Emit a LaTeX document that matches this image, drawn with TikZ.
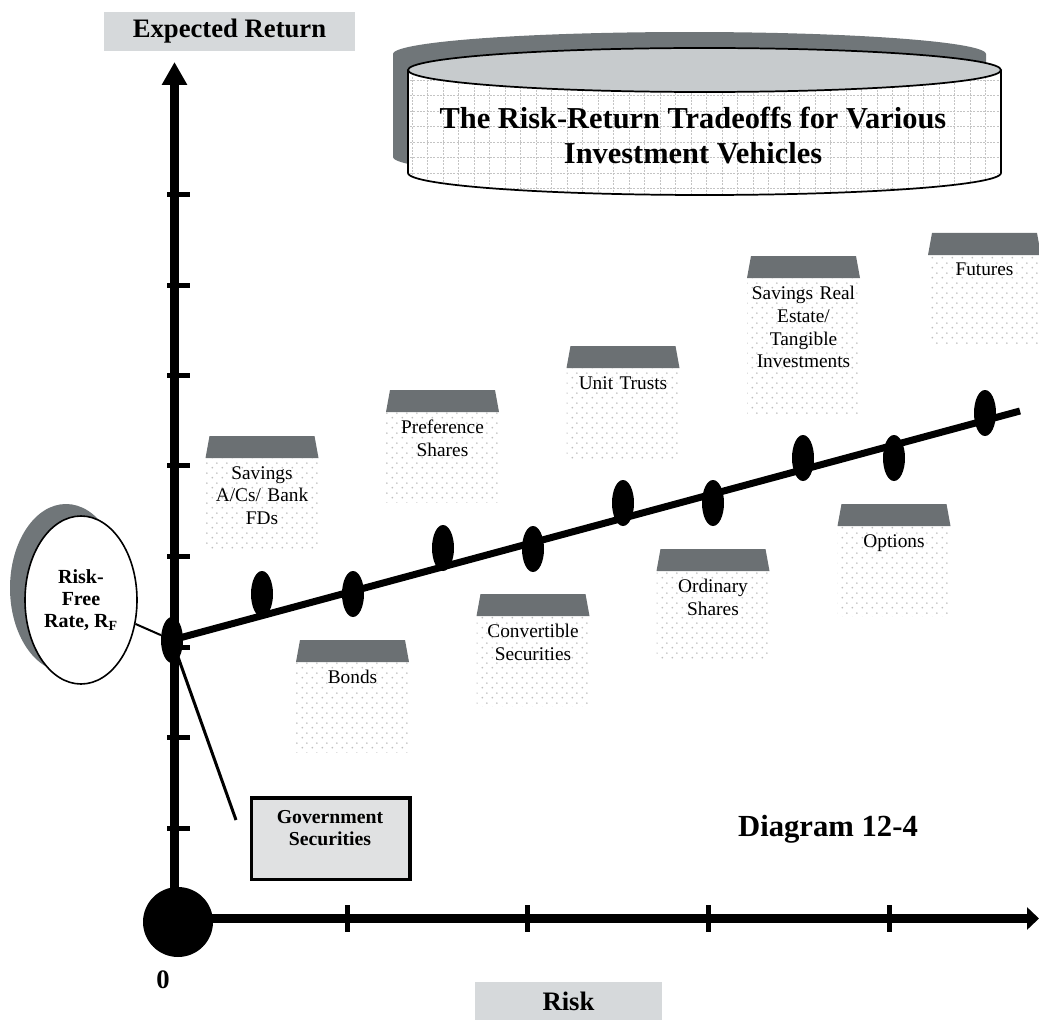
\documentclass[tikz,border=0pt]{standalone}
\usepackage{fontspec}
\setmainfont{Liberation Serif}
\usetikzlibrary{shapes.geometric,arrows.meta,patterns.meta}

\definecolor{roofgray}{RGB}{107,112,115}
\definecolor{shadowgray}{RGB}{112,118,121}
\definecolor{lidgray}{RGB}{199,203,205}
\definecolor{marble}{RGB}{214,217,219}
\definecolor{marblelight}{RGB}{224,225,226}
\definecolor{dotgray}{RGB}{190,190,190}
\definecolor{gridgray}{RGB}{196,196,196}

% light stippled fill for the vehicle cards
\tikzdeclarepattern{
  name=softdots,
  bounding box={(0pt,0pt) and (7.5pt,7.5pt)},
  tile size={(7.5pt,7.5pt)},
  code={
    \pgfpathcircle{\pgfpoint{1.875pt}{1.875pt}}{0.8pt}
    \pgfpathcircle{\pgfpoint{5.625pt}{5.625pt}}{0.8pt}
    \pgfusepath{fill}
  }
}

\pgfdeclarelayer{under}
\pgfsetlayers{under,main}

\tikzset{
  roof/.style={fill=roofgray},
  cardbody/.style={pattern=softdots, pattern color=dotgray},
  cardtext/.style={anchor=north, align=center, text width=84pt, inner sep=0pt,
                   font=\fontsize{14.5}{17}\selectfont},
  riskdot/.style={ellipse, fill=black, inner sep=0pt, minimum width=16.5pt, minimum height=34.5pt},
  axisline/.style={line width=6.75pt},
  tickmark/.style={line width=3.75pt},
  boldlbl/.style={font=\bfseries\fontsize{20}{24}\selectfont},
  marblebox/.style={fill=marble, inner sep=0pt},
  gridline/.style={draw=gridgray, line width=0.55pt, dash pattern=on 1.5pt off 1pt},
}

% card: #1 name, #2 centre x, #3 roof top y, #4 body height, #5 text
\newcommand\investcard[5]{%
  \fill[roof] (#2-52.5,#3) -- (#2+52.5,#3) -- (#2+56.5,#3+22) -- (#2-56.5,#3+22) -- cycle;
  \path[cardbody] (#2-56.5,#3+22) rectangle (#2+56.5,#3+22+#4);
  \node[cardtext] (#1) at (#2,#3+30) {#5};
}

\begin{document}
\begin{tikzpicture}[x=0.75pt,y=-0.75pt]
\useasboundingbox (0,0) rectangle (1039,1020);

% ---------- axis labels ----------
\node[marblebox, boldlbl, minimum width=188.25pt, minimum height=29.25pt] (ylabel) at (229.5,31.5) {Expected Return};
\node[marblebox, boldlbl, minimum width=140.25pt, minimum height=28.5pt] (xlabel) at (568.5,1001) {Risk};
\node[boldlbl] (zero) at (163,980) {0};
\node[font=\bfseries\fontsize{23}{27}\selectfont] (diag) at (828,829) {Diagram 12-4};

% ---------- title cylinder ----------
\begin{scope}[shift={(-15,-16)}]
  \fill[shadowgray] (408,70) -- (408,173)
    -- plot[domain=180:0, samples=60] ({704.5+296.5*cos(\x)},{173+22*sin(\x)})
    -- (1001,70)
    -- plot[domain=0:-180, samples=60] ({704.5+296.5*cos(\x)},{70+22*sin(\x)}) -- cycle;
\end{scope}
\fill[white] (408,70) -- (408,173)
  -- plot[domain=180:0, samples=60] ({704.5+296.5*cos(\x)},{173+22*sin(\x)})
  -- (1001,70)
  -- plot[domain=0:180, samples=60] ({704.5+296.5*cos(\x)},{70+22*sin(\x)}) -- cycle;
\begin{scope}
  \clip (408,70) -- (408,173)
    -- plot[domain=180:0, samples=60] ({704.5+296.5*cos(\x)},{173+22*sin(\x)})
    -- (1001,70) -- cycle;
  \foreach \gx in {412,427.5,...,1000} \draw[gridline] (\gx,60) -- (\gx,200);
  \foreach \gy in {80,95.5,...,200} \draw[gridline] (400,\gy) -- (1010,\gy);
\end{scope}
\draw[line width=1.3pt] (408,70) -- (408,173)
  -- plot[domain=180:0, samples=60] ({704.5+296.5*cos(\x)},{173+22*sin(\x)})
  -- (1001,70);
\filldraw[fill=lidgray, line width=1.3pt] (704.5,70) ellipse [x radius=296.5, y radius=22];
\node[font=\bfseries\fontsize{22.8}{26.25}\selectfont, align=center] (title) at (693,136)
  {The Risk-Return Tradeoffs for Various\\Investment Vehicles};

% ---------- investment vehicle cards ----------
\investcard{savings}{262}{436}{90}{Savings\\A/Cs/ Bank\\FDs}
\investcard{bonds}{352.5}{640}{90}{Bonds}
\investcard{pref}{442.5}{390}{90}{Preference\\Shares}
\investcard{conv}{533}{594}{90}{Convertible\\Securities}
\investcard{unit}{623}{346}{90}{Unit Trusts}
\investcard{ordin}{713}{549}{90}{Ordinary\\Shares}
\investcard{realest}{803.5}{256}{137}{Savings Real\\Estate/\\Tangible\\Investments}
\investcard{options}{894}{504}{90}{Options}
\investcard{futures}{984.5}{233}{90}{Futures}

% ---------- risk-free rate bubble ----------
\fill[shadowgray] (66,588) ellipse [x radius=56, y radius=84];
\node[ellipse, draw, line width=1.2pt, fill=white, minimum width=84pt, minimum height=126pt,
      inner sep=0pt, align=center, font=\bfseries\fontsize{15}{16.5}\selectfont]
  (rf) at (81,600) {Risk-\\Free\\Rate, R\textsubscript{F}};

% ---------- government securities box ----------
\node[draw, line width=2.6pt, fill=marblelight, minimum width=118.9pt, minimum height=61.1pt, inner sep=0pt]
  (gov) at (330.5,838.5) {};
\node[font=\bfseries\fontsize{14.8}{17}\selectfont, align=center] (govtext) at (330,828) {Government\\Securities};

% ---------- axes, origin and return dots ----------
\coordinate (O) at (174.5,918.5);
\coordinate (ytip) at (174.5,62);
\coordinate (xtip) at (1039,918.5);
\coordinate (lend) at (1020,411);
\coordinate (govend) at (236,820);

\node[circle, fill=black, minimum size=52.5pt, inner sep=0pt] (orig) at (178,922) {};

\node[riskdot] (d0) at (172,640) {};
\node[riskdot] (d1) at (262,594) {};
\node[riskdot] (d2) at (353,594) {};
\node[riskdot] (d3) at (443,548) {};
\node[riskdot] (d4) at (533,549) {};
\node[riskdot] (d5) at (623,503) {};
\node[riskdot] (d6) at (713,503) {};
\node[riskdot] (d7) at (803,458) {};
\node[riskdot] (d8) at (894,458) {};
\node[riskdot] (d9) at (985,413) {};

\begin{pgfonlayer}{under}
  \draw[axisline, -{Triangle[length=17.25pt,width=18pt]}] (O) -- (ytip);
  \draw[axisline, -{Triangle[length=9pt,width=16.5pt]}] (O) -- (xtip);
  \foreach \ty in {195,285,375,465,556,647,737,828}
    \draw[tickmark] (167,\ty) -- (190,\ty);
  \foreach \tx in {347,527,708,889}
    \draw[tickmark] (\tx,905) -- (\tx,932);
  \draw[line width=5.25pt] (d0.center) -- (lend);
  \draw[line width=2.25pt] (d0.center) -- (govend);
  \draw[line width=1.5pt] (rf) -- (d0);
\end{pgfonlayer}

\end{tikzpicture}
\end{document}
